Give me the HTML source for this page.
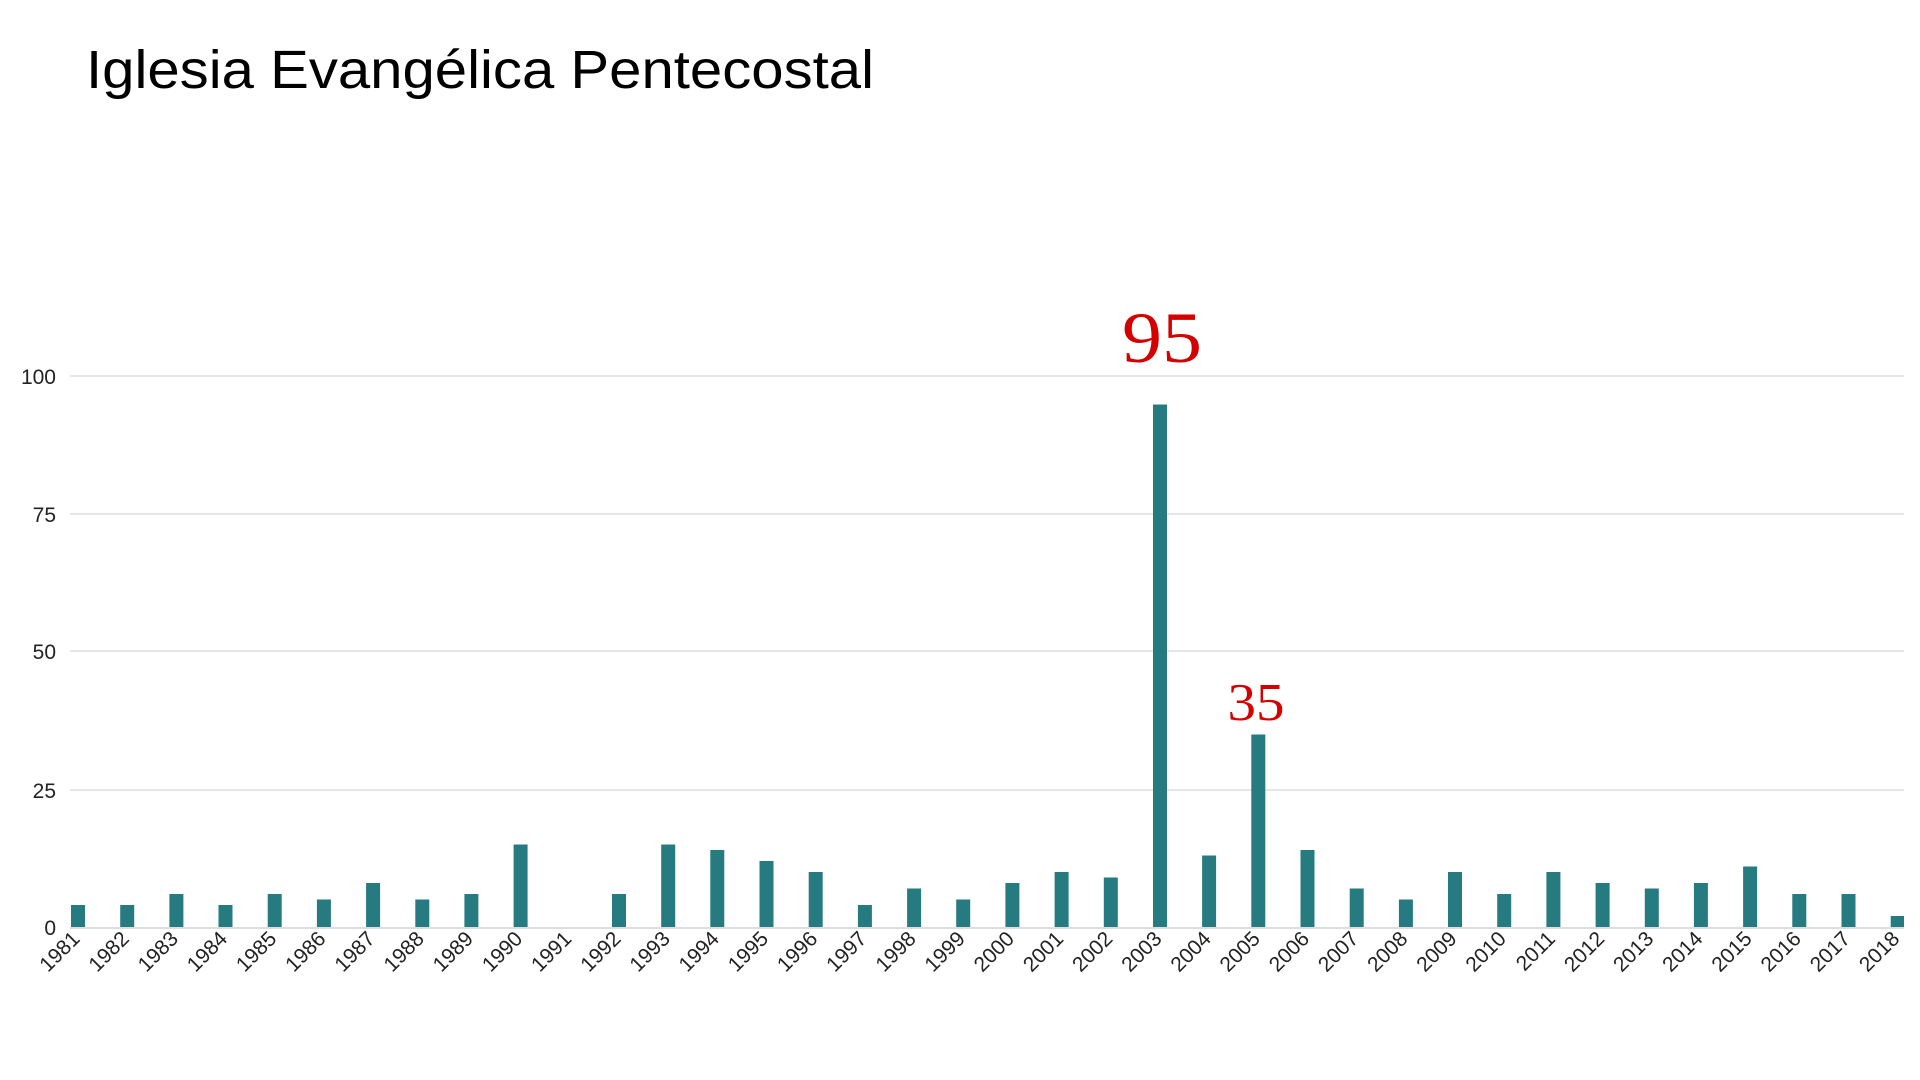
<!DOCTYPE html>
<html><head><meta charset="utf-8"><style>html,body{margin:0;padding:0;background:#fff;}svg{display:block}</style></head>
<body>
<svg width="1920" height="1080" viewBox="0 0 1920 1080" xmlns="http://www.w3.org/2000/svg">
<text x="86" y="88" font-family="Liberation Sans, sans-serif" font-size="54" fill="#000" textLength="788" lengthAdjust="spacingAndGlyphs">Iglesia Evangélica Pentecostal</text>
<g stroke="#cccccc" stroke-width="1">
<line x1="70" y1="376" x2="1904" y2="376"/>
<line x1="70" y1="514" x2="1904" y2="514"/>
<line x1="70" y1="651" x2="1904" y2="651"/>
<line x1="70" y1="790" x2="1904" y2="790"/>
</g>
<g font-family="Liberation Sans, sans-serif" font-size="21" fill="#222" text-anchor="end">
<text x="56" y="384">100</text><text x="56" y="522">75</text><text x="56" y="659">50</text><text x="56" y="798">25</text><text x="56" y="935">0</text>
</g>
<g fill="#267b80">
<rect x="71.0" y="905" width="14" height="22"/>
<rect x="120.2" y="905" width="14" height="22"/>
<rect x="169.4" y="894" width="14" height="33"/>
<rect x="218.5" y="905" width="14" height="22"/>
<rect x="267.7" y="894" width="14" height="33"/>
<rect x="316.9" y="899.5" width="14" height="27.5"/>
<rect x="366.1" y="883" width="14" height="44"/>
<rect x="415.3" y="899.5" width="14" height="27.5"/>
<rect x="464.4" y="894" width="14" height="33"/>
<rect x="513.6" y="844.5" width="14" height="82.5"/>
<rect x="612.0" y="894" width="14" height="33"/>
<rect x="661.2" y="844.5" width="14" height="82.5"/>
<rect x="710.3" y="850" width="14" height="77"/>
<rect x="759.5" y="861" width="14" height="66"/>
<rect x="808.7" y="872" width="14" height="55"/>
<rect x="857.9" y="905" width="14" height="22"/>
<rect x="907.1" y="888.5" width="14" height="38.5"/>
<rect x="956.2" y="899.5" width="14" height="27.5"/>
<rect x="1005.4" y="883" width="14" height="44"/>
<rect x="1054.6" y="872" width="14" height="55"/>
<rect x="1103.8" y="877.5" width="14" height="49.5"/>
<rect x="1153.0" y="404.5" width="14" height="522.5"/>
<rect x="1202.1" y="855.5" width="14" height="71.5"/>
<rect x="1251.3" y="734.5" width="14" height="192.5"/>
<rect x="1300.5" y="850" width="14" height="77"/>
<rect x="1349.7" y="888.5" width="14" height="38.5"/>
<rect x="1398.9" y="899.5" width="14" height="27.5"/>
<rect x="1448.0" y="872" width="14" height="55"/>
<rect x="1497.2" y="894" width="14" height="33"/>
<rect x="1546.4" y="872" width="14" height="55"/>
<rect x="1595.6" y="883" width="14" height="44"/>
<rect x="1644.8" y="888.5" width="14" height="38.5"/>
<rect x="1693.9" y="883" width="14" height="44"/>
<rect x="1743.1" y="866.5" width="14" height="60.5"/>
<rect x="1792.3" y="894" width="14" height="33"/>
<rect x="1841.5" y="894" width="14" height="33"/>
<rect x="1890.7" y="916" width="13.3" height="11"/>
</g>
<line x1="70" y1="928" x2="1904" y2="928" stroke="#dddddd" stroke-width="2"/>
<g font-family="Liberation Sans, sans-serif" font-size="21" fill="#222" text-anchor="end">
<text transform="translate(81,940) rotate(-45)">1981</text>
<text transform="translate(130.2,940) rotate(-45)">1982</text>
<text transform="translate(179.4,940) rotate(-45)">1983</text>
<text transform="translate(228.5,940) rotate(-45)">1984</text>
<text transform="translate(277.7,940) rotate(-45)">1985</text>
<text transform="translate(326.9,940) rotate(-45)">1986</text>
<text transform="translate(376.1,940) rotate(-45)">1987</text>
<text transform="translate(425.3,940) rotate(-45)">1988</text>
<text transform="translate(474.4,940) rotate(-45)">1989</text>
<text transform="translate(523.6,940) rotate(-45)">1990</text>
<text transform="translate(572.8,940) rotate(-45)">1991</text>
<text transform="translate(622,940) rotate(-45)">1992</text>
<text transform="translate(671.2,940) rotate(-45)">1993</text>
<text transform="translate(720.3,940) rotate(-45)">1994</text>
<text transform="translate(769.5,940) rotate(-45)">1995</text>
<text transform="translate(818.7,940) rotate(-45)">1996</text>
<text transform="translate(867.9,940) rotate(-45)">1997</text>
<text transform="translate(917.1,940) rotate(-45)">1998</text>
<text transform="translate(966.2,940) rotate(-45)">1999</text>
<text transform="translate(1015.4,940) rotate(-45)">2000</text>
<text transform="translate(1064.6,940) rotate(-45)">2001</text>
<text transform="translate(1113.8,940) rotate(-45)">2002</text>
<text transform="translate(1163,940) rotate(-45)">2003</text>
<text transform="translate(1212.1,940) rotate(-45)">2004</text>
<text transform="translate(1261.3,940) rotate(-45)">2005</text>
<text transform="translate(1310.5,940) rotate(-45)">2006</text>
<text transform="translate(1359.7,940) rotate(-45)">2007</text>
<text transform="translate(1408.9,940) rotate(-45)">2008</text>
<text transform="translate(1458,940) rotate(-45)">2009</text>
<text transform="translate(1507.2,940) rotate(-45)">2010</text>
<text transform="translate(1556.4,940) rotate(-45)">2011</text>
<text transform="translate(1605.6,940) rotate(-45)">2012</text>
<text transform="translate(1654.8,940) rotate(-45)">2013</text>
<text transform="translate(1703.9,940) rotate(-45)">2014</text>
<text transform="translate(1753.1,940) rotate(-45)">2015</text>
<text transform="translate(1802.3,940) rotate(-45)">2016</text>
<text transform="translate(1851.5,940) rotate(-45)">2017</text>
<text transform="translate(1900.7,940) rotate(-45)">2018</text>
</g>
<text x="1162" y="362" font-family="Liberation Serif, serif" font-size="72" fill="#d40000" text-anchor="middle" textLength="80" lengthAdjust="spacingAndGlyphs">95</text>
<text x="1256" y="720" font-family="Liberation Serif, serif" font-size="53" fill="#d40000" text-anchor="middle" textLength="57" lengthAdjust="spacingAndGlyphs">35</text>
</svg>
</body></html>
